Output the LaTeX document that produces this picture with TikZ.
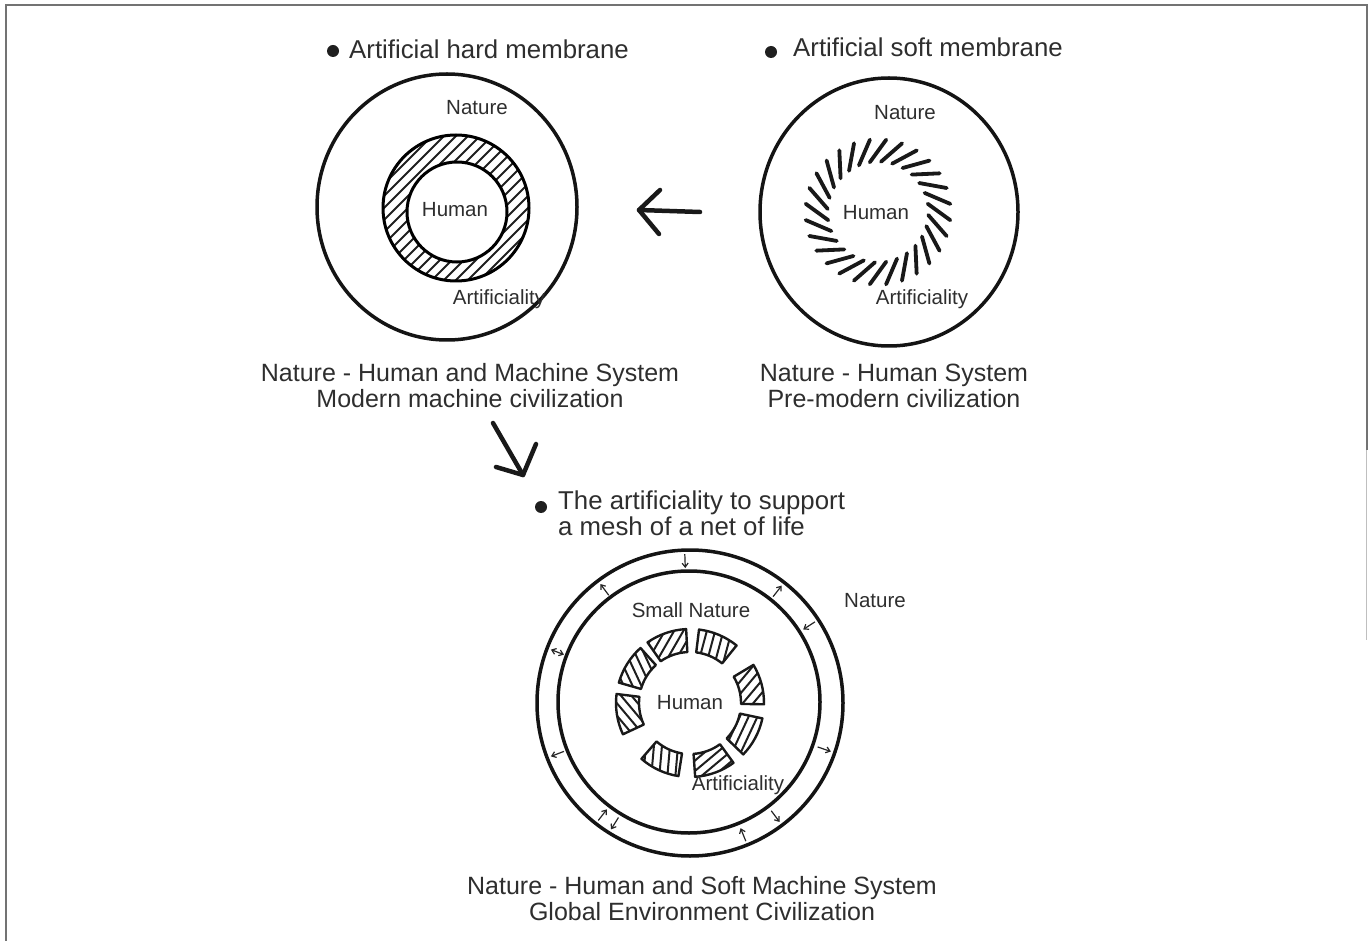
\documentclass[tikz,border=0pt]{standalone}
\usepackage{fontspec}
\setmainfont{Liberation Sans}
\usetikzlibrary{arrows.meta,calc}
\begin{document}
\begin{tikzpicture}[x=1pt,y=-1pt,
  big/.style={font=\fontsize{25}{30}\selectfont, text=black!82, inner sep=0pt},
  head/.style={font=\fontsize{25.8}{30}\selectfont, text=black!82, inner sep=0pt},
  small/.style={font=\fontsize{20.5}{24}\selectfont, text=black!82, inner sep=0pt},
  ring/.style={line width=3.5pt, draw=black!92},
  hand/.style={line width=4.5pt, draw=black!90, line cap=round, line join=round},
  hatch/.style={line width=2pt, draw=black!88},
  segline/.style={line width=2.4pt, draw=black!90, line join=round},
  sarr/.style={-{Straight Barb[length=4pt,width=6pt]}, line width=1.2pt, draw=black!85},
  sboth/.style={{Straight Barb[length=4pt,width=6pt]}-{Straight Barb[length=4pt,width=6pt]}, line width=1.2pt, draw=black!85},
  frame/.style={line width=2pt, draw=black!55}
]
\useasboundingbox (0,0) rectangle (1369,941);
% frame
\draw[frame] (6,941) -- (6,5) -- (1366.5,5) -- (1366.5,450);
\draw[line width=1.6pt, draw=black!25] (1366.5,450) -- (1366.5,640);

% ---------- top-left: hard membrane ----------
\fill[black!88] (333,51) circle (6);
\node[head, anchor=base west] (h1) at (349,59) {Artificial hard membrane};
\draw[ring] (447,207) ellipse [x radius=130, y radius=133];
\begin{scope}[even odd rule]
  \clip (456,208) circle (73) (457,212) circle (50);
  \foreach \k in {-132,-120,...,132}
    \draw[hatch] ({456+\k-100},308) -- ({456+\k+100},108);
\end{scope}
\draw[line width=3pt] (456,208) circle (73);
\draw[line width=3pt] (457,212) circle (50);
\node[small, anchor=base] (n1) at (477,114.5) {Nature};
\node[small, anchor=base] (hu1) at (455,216.5) {Human};
\node[small, anchor=base] (a1) at (499,305) {Artificiality};
\node[big, anchor=base] (c1a) at (470,382) {Nature - Human and Machine System};
\node[big, anchor=base] (c1b) at (470,408) {Modern machine civilization};

% ---------- top-right: soft membrane ----------
\fill[black!88] (771,52) circle (6);
\node[head, anchor=base west] (h2) at (793,57) {Artificial soft membrane};
\draw[ring] (889,212) ellipse [x radius=129, y radius=134];
\begin{scope}[shift={(878,212)}, x=1pt, y=1pt]
  \foreach \i in {0,...,27}
    \draw[line width=3.8pt, draw=black!90, line cap=round]
      ({\i*360/28}:61) ++({\i*360/28-36}:-14) -- ++({\i*360/28-36}:28);
\end{scope}
\node[small, anchor=base] (n2) at (905,119.5) {Nature};
\node[small, anchor=base] (hu2) at (876,219.5) {Human};
\node[small, anchor=base] (a2) at (922,304.5) {Artificiality};
\node[big, anchor=base] (c2a) at (894,382) {Nature - Human System};
\node[big, anchor=base] (c2b) at (894,408) {Pre-modern civilization};

% ---------- arrows ----------
\coordinate (la1) at (700,212);
\coordinate (la2) at (639,210);
\coordinate (la3) at (660,190);
\coordinate (la4) at (659,234);
\draw[hand] (la1) -- (la2);
\draw[hand] (la3) -- (la2) -- (la4);
\coordinate (da1) at (493,423);
\coordinate (da2) at (523,475);
\coordinate (da3) at (496,467);
\coordinate (da4) at (536,444);
\draw[hand] (da1) -- (da2);
\draw[hand] (da3) -- (da2) -- (da4);

% ---------- bottom: soft machine ----------
\fill[black!88] (541,507) circle (6);
\node[head, anchor=base west] (h3) at (558,509) {The artificiality to support};
\node[head, anchor=base west] (h3b) at (558,535) {a mesh of a net of life};
\draw[ring] (690,703) circle (153);
\draw[ring] (689,702) circle (131);
\begin{scope}[shift={(690,703)}, x=1pt, y=1pt]
  % small arrows in the band
  \draw[sarr] (92:149) -- (92:135);
  \draw[sarr] (127:135) -- (127:149);
  \draw[sarr] (52:135) -- (52:149);
  \draw[sarr] (33:149) -- (33:135);
  \draw[sboth] (159:135) -- (159:149);
  \draw[sarr] (-19:135) -- (-19:149);
  \draw[sarr] (201:135) -- (201:149);
  \draw[sarr] (232:149) -- (232:135);
  \draw[sarr] (238:135) -- (238:149);
  \draw[sarr] (292:149) -- (292:135);
  \draw[sarr] (307:135) -- (307:149);
  % hatched segments
  \foreach \a/\h in {109/60, 67/75, 15/50, -28/65, -70/40, -115/85, -171/130, 148/115} {
    \begin{scope}
      \clip ({\a-16}:51) arc[start angle={\a-16}, end angle={\a+16}, radius=51]
        -- ({\a+16}:74) arc[start angle={\a+16}, end angle={\a-16}, radius=74] -- cycle;
      \foreach \k in {-45,-37,...,45}
        \draw[hatch] ($(\a:62)+(\h:-30)+({\h+90}:\k)$) -- ++(\h:60);
    \end{scope}
    \draw[segline] ({\a-16}:51) arc[start angle={\a-16}, end angle={\a+16}, radius=51]
        -- ({\a+16}:74) arc[start angle={\a+16}, end angle={\a-16}, radius=74] -- cycle;
  }
\end{scope}
\node[small, anchor=base] (sn) at (691,617.5) {Small Nature};
\node[small, anchor=base] (n3) at (875,607.5) {Nature};
\node[small, anchor=base] (hu3) at (690,709.5) {Human};
\node[small, anchor=base] (a3) at (738,790.5) {Artificiality};
\node[big, anchor=base] (c3a) at (702,894) {Nature - Human and Soft Machine System};
\node[big, anchor=base] (c3b) at (702,920) {Global Environment Civilization};
\end{tikzpicture}
\end{document}
